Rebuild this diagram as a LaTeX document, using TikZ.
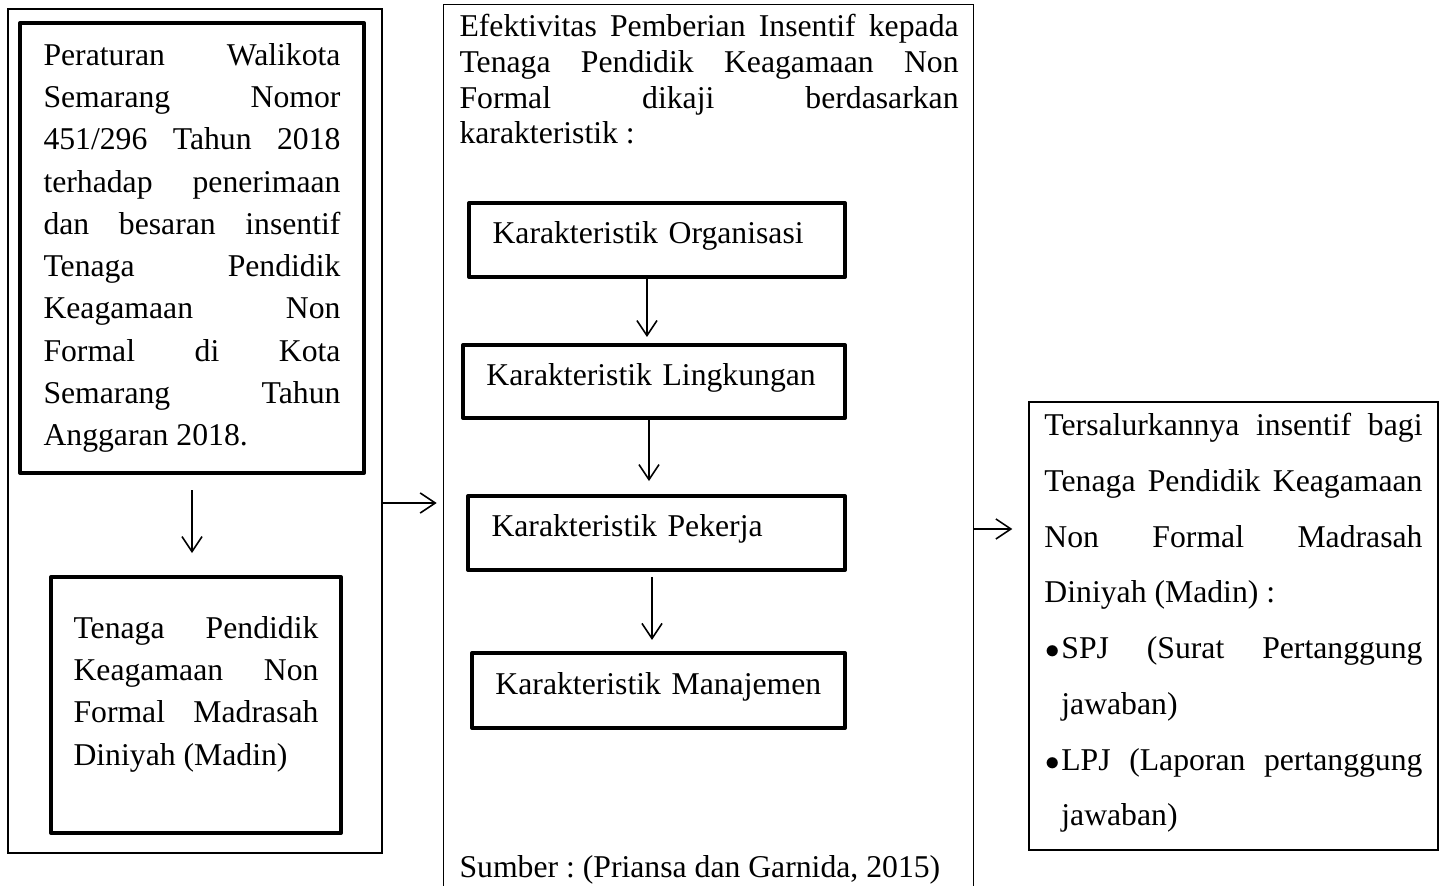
\documentclass[tikz,border=0pt]{standalone}
\usepackage{fontspec}
\setmainfont{Liberation Serif}
\usetikzlibrary{arrows.meta}
\setlength{\parindent}{0pt}
\frenchspacing

\newcommand{\butir}{\makebox[6.4pt][l]{\hspace{0.3pt}{\fontsize{10.5}{10}\selectfont$\bullet$}}}

\tikzset{
  tipis/.style={draw, line width=0.6pt},
  tebal/.style={draw, line width=1.5pt, line join=round},
  teks/.style={align=justify, execute at begin node={\tolerance=10000\hbadness=10000}},
  kotak/.style={tebal, align=left, inner xsep=8.9pt, text height=7pt, text depth=4pt,
                font=\fontsize{12}{14}\selectfont},
  arr/.style={-{Straight Barb[length=5.7pt,width=7.6pt]}, line width=0.6pt}
}

\begin{document}
\begin{tikzpicture}[x=0.3785pt, y=-0.3785pt]
    \useasboundingbox (0,0) rectangle (1440,886);

    % Kolom kiri
    \node[tipis, minimum width=141.6pt, minimum height=319.5pt] (kiri) at (195,431) {};
    \node[tebal, teks, text width=112.4pt, inner xsep=8.9pt, minimum height=170.3pt,
          font=\fontsize{12}{16}\selectfont] (perwal) at (192,248)
      {Peraturan Walikota\linebreak Semarang Nomor\linebreak 451/296 Tahun 2018\linebreak
       terhadap penerimaan\linebreak dan besaran insentif\linebreak Tenaga Pendidik\linebreak
       Keagamaan Non\linebreak Formal di Kota\linebreak Semarang Tahun\linebreak Anggaran 2018.};
    \node[tebal, teks, text width=92.7pt, inner xsep=8.55pt, minimum height=96.9pt,
          text depth=58.9pt, font=\fontsize{12}{16}\selectfont] (madin) at (196,705)
      {Tenaga Pendidik\linebreak Keagamaan Non\linebreak Formal Madrasah\linebreak Diniyah (Madin)};

    % Kolom tengah
    \node[minimum width=200.2pt, minimum height=333.5pt, inner sep=0pt] (tengah) at (708.5,445.5) {};
    \draw[line width=0.6pt] (tengah.south west) -- (tengah.north west) -- (tengah.north east) -- (tengah.south east);
    \node[teks, text width=188.9pt, inner sep=0pt, anchor=north west,
          font=\fontsize{12}{13.5}\selectfont] (judul) at (459,14)
      {Efektivitas Pemberian Insentif kepada\linebreak Tenaga Pendidik Keagamaan Non\linebreak
       Formal dikaji berdasarkan\linebreak karakteristik :};
    \node[kotak, text width=124.5pt, minimum height=28pt] (org) at (657,240) {Karakteristik Organisasi};
    \node[kotak, text width=126.8pt, minimum height=27.6pt] (ling) at (654,381.5) {Karakteristik Lingkungan};
    \node[kotak, text width=124.9pt, minimum height=28pt] (pek) at (656.5,533) {Karakteristik Pekerja};
    \node[kotak, text width=123.4pt, minimum height=28.4pt] (man) at (658.5,690.5) {Karakteristik Manajemen};
    \node[anchor=base west, inner sep=0pt, font=\fontsize{12}{14}\selectfont] (sumber) at (459,878)
      {Sumber : (Priansa dan Garnida, 2015)};

    % Kolom kanan
    \node[tipis, teks, text width=143.1pt, inner xsep=5.85pt, minimum height=169.6pt,
          text depth=152.6pt, font=\fontsize{12}{21.1}\selectfont] (hasil) at (1233.5,626)
      {Tersalurkannya insentif bagi\linebreak Tenaga Pendidik Keagamaan\linebreak
       Non Formal Madrasah\linebreak Diniyah (Madin) :\par
       \hangindent=6.4pt\hangafter=1\butir SPJ (Surat Pertanggung\linebreak jawaban)\par
       \hangindent=6.4pt\hangafter=1\butir LPJ (Laporan pertanggung\linebreak jawaban)\par};

    % Panah
    \coordinate (pL) at (400,503);
    \coordinate (pR) at (990,529);
    \draw[arr, shorten <=5.7pt, shorten >=8.3pt] (perwal.south) -- (perwal.south |- madin.north);
    \draw[arr, shorten >=2.6pt] (kiri.east |- pL) -- (tengah.west |- pL);
    \draw[arr, shorten >=2.3pt] ([xshift=-3.8pt]org.south) -- ([xshift=-3.8pt]org.south |- ling.north);
    \draw[arr, shorten >=4.9pt] ([xshift=-1.9pt]ling.south) -- ([xshift=-1.9pt]ling.south |- pek.north);
    \draw[arr, shorten <=1.9pt, shorten >=4.2pt] ([xshift=-1.7pt]pek.south) -- ([xshift=-1.7pt]pek.south |- man.north);
    \draw[arr, shorten >=6pt] (tengah.east |- pR) -- (hasil.west |- pR);
\end{tikzpicture}
\end{document}
